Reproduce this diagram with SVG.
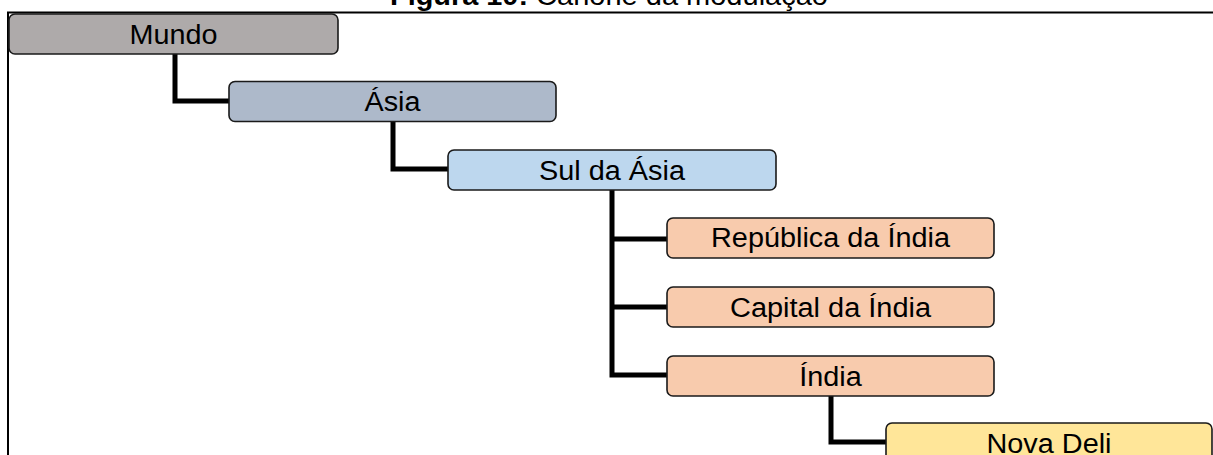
<svg xmlns="http://www.w3.org/2000/svg" width="1213" height="455" viewBox="0 0 1213 455">
<style>
.box{stroke:#1a1a1a;stroke-width:1.6}
.t{font-family:"Liberation Sans",Arial,sans-serif;font-size:27px;fill:#000;text-anchor:middle}
.c{fill:none;stroke:#000;stroke-width:5}
.frame{fill:none;stroke:#000;stroke-width:2}
</style>
<rect width="1213" height="455" fill="#fff"/>
<text x="390" y="5" style="font-family:'Liberation Sans',Arial,sans-serif;font-size:27px"><tspan font-weight="bold" textLength="138" lengthAdjust="spacingAndGlyphs">Figura 10:</tspan><tspan textLength="300" lengthAdjust="spacingAndGlyphs"> Cânone da modulação</tspan></text>
<path class="frame" d="M1213,12.5 H8 V455"/>
<g id="connectors">
<path class="c" d="M175,54 V101 H229"/>
<path class="c" d="M393,122 V169 H448"/>
<path class="c" d="M612,190 V375 H667 M612,239 H667 M612,307 H667"/>
<path class="c" d="M831,396 V442 H886"/>
</g>
<g id="mundo"><rect class="box" x="9" y="14" width="329" height="40" rx="6" fill="#AEAAAA"/><text class="t" x="173.5" y="43.5" textLength="88" lengthAdjust="spacingAndGlyphs">Mundo</text></g>
<g id="asia"><rect class="box" x="229" y="81.5" width="327" height="40" rx="6" fill="#ADB9CA"/><text class="t" x="392.5" y="111" textLength="56" lengthAdjust="spacingAndGlyphs">Ásia</text></g>
<g id="sul-da-asia"><rect class="box" x="448" y="150" width="328" height="40" rx="6" fill="#BDD7EE"/><text class="t" x="612" y="179.5" textLength="146" lengthAdjust="spacingAndGlyphs">Sul da Ásia</text></g>
<g id="republica"><rect class="box" x="667" y="218" width="327" height="40" rx="6" fill="#F8CBAD"/><text class="t" x="830.5" y="247" textLength="239" lengthAdjust="spacingAndGlyphs">República da Índia</text></g>
<g id="capital"><rect class="box" x="667" y="287" width="327" height="40" rx="6" fill="#F8CBAD"/><text class="t" x="830.5" y="316.5" textLength="201" lengthAdjust="spacingAndGlyphs">Capital da Índia</text></g>
<g id="india"><rect class="box" x="667" y="356" width="327" height="40" rx="6" fill="#F8CBAD"/><text class="t" x="830.5" y="385.5" textLength="62.5" lengthAdjust="spacingAndGlyphs">Índia</text></g>
<g id="nova-deli"><rect class="box" x="886" y="423" width="326" height="50" rx="6" fill="#FFE699"/><text class="t" x="1049" y="452.5" textLength="125" lengthAdjust="spacingAndGlyphs">Nova Deli</text></g>
</svg>
